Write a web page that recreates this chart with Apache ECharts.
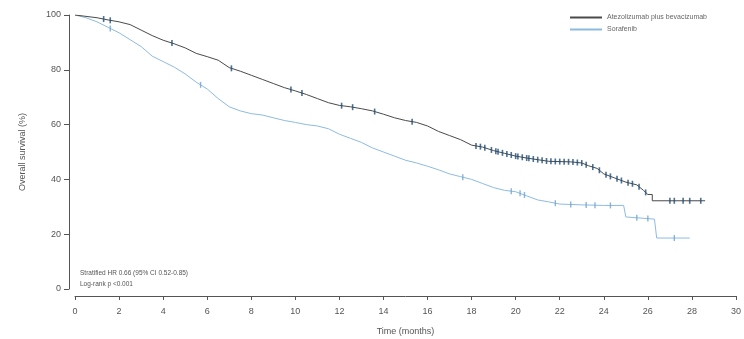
<!DOCTYPE html>
<html>
<head>
<meta charset="utf-8">
<script src="https://cdn.jsdelivr.net/npm/echarts@6/dist/echarts.min.js"></script>
<style>
  html, body { margin: 0; padding: 0; background: #fff; }
  #os-chart { width: 744px; height: 339px; }
</style>
</head>
<body>
<div id="os-chart"></div>
<script>
// Kaplan-Meier curves (time in months, survival %)
// repeated times are the visible vertical drops
const atezoTimes = [0, 0.5, 1.0, 1.5, 2.0, 2.5, 3.0, 3.5, 4.0, 4.5, 5.0, 5.5, 6.0, 6.5, 7.0, 7.5, 8.0, 8.5, 9.0, 9.5,
  10.0, 10.5, 11.0, 11.5, 12.0, 12.5, 13.0, 13.5, 14.0, 14.5, 15.0, 15.5, 16.0, 16.5, 17.0, 17.5, 18.0, 18.5, 19.0, 19.5,
  20.0, 20.5, 21.0, 21.5, 22.0, 22.5, 23.0, 23.3, 23.7, 24.0, 24.5, 25.0, 25.5, 25.8, 26.0, 26.2, 26.2, 28.6]
const atezoSurv = [100, 99.5, 99, 98.2, 97.5, 96.5, 94.5, 92.5, 90.8, 89.5, 88, 86, 84.8, 83.5, 80.8, 79.5, 78, 76.5, 75, 73.5,
  72.3, 71, 69.5, 68, 67, 66.5, 65.8, 65, 63.8, 62.5, 61.5, 60.8, 59.5, 57.5, 56, 54.5, 52.5, 51.8, 50.5, 49.5,
  48.5, 47.8, 47.2, 46.6, 46.5, 46.4, 46, 45, 44, 42, 40.5, 39, 38, 36, 34.5, 34.5, 32.2, 32.2]

const soraTimes = [0, 0.5, 1.0, 1.5, 2.0, 2.5, 3.0, 3.5, 4.0, 4.5, 5.0, 5.5, 6.0, 6.5, 7.0, 7.5, 8.0, 8.5, 9.0, 9.5,
  10.0, 10.5, 11.0, 11.5, 12.0, 12.5, 13.0, 13.5, 14.0, 14.5, 15.0, 15.5, 16.0, 16.5, 17.0, 17.5, 18.0, 18.5, 19.0, 19.5,
  20.0, 20.5, 21.0, 21.5, 22.0, 23.0, 24.0, 24.9, 25.0, 26.3, 26.4, 27.9]
const soraSurv = [100, 99, 97.5, 95.5, 93.5, 91, 88.5, 85, 83, 81, 78.5, 75.5, 73, 69.5, 66.5, 65, 64, 63.5, 62.5, 61.5,
  60.8, 60, 59.5, 58.5, 56.5, 55, 53.5, 51.5, 50, 48.5, 47, 46, 44.8, 43.5, 42, 41, 40, 38.5, 37, 36,
  35.5, 34, 32.5, 31.8, 31, 30.7, 30.5, 30.5, 26.3, 25.5, 18.6, 18.6]

// censoring times
const atezoCensor = [1.3, 1.6, 4.4, 7.1, 9.8, 10.3, 12.1, 12.6, 13.6, 15.3, 18.2, 18.4, 18.6, 18.9, 19.1, 19.2, 19.4, 19.6,
  19.8, 20.0, 20.1, 20.3, 20.5, 20.6, 20.8, 21.0, 21.2, 21.4, 21.6, 21.8, 22.0, 22.2, 22.4, 22.6, 22.8, 23.0, 23.2,
  23.5, 23.8, 24.1, 24.3, 24.6, 24.8, 25.1, 25.3, 25.6, 25.9, 27.0, 27.2, 27.6, 27.9, 28.4]
const soraCensor = [1.6, 5.7, 17.6, 19.8, 20.2, 20.4, 21.8, 22.5, 23.2, 23.6, 24.3, 25.5, 26.0, 27.2]

const xTicks = [0, 2, 4, 6, 8, 10, 12, 14, 16, 18, 20, 22, 24, 26, 28, 30]
const seriesNames = ['Atezolizumab plus bevacizumab', 'Sorafenib']
const notes = ['Stratified HR 0.66 (95% CI 0.52-0.85)', 'Log-rank p <0.001']

function pairs(ts, ss) { return ts.map((t, i) => [t, ss[i]]) }
// survival at a time, interpolated along the drawn curve
function survAt(ts, ss, t) {
  for (let i = 1; i < ts.length; i++) {
    if (t <= ts[i]) {
      const span = ts[i] - ts[i - 1]
      if (span <= 0) return ss[i]
      return ss[i - 1] + (ss[i] - ss[i - 1]) * (t - ts[i - 1]) / span
    }
  }
  return ss[ss.length - 1]
}

const chart = echarts.init(document.getElementById('os-chart'))
const tickColor = '#555'
const font = 'Liberation Sans'
const options = {
  animation: false,
  grid: { left: 75, right: 8, top: 15, bottom: 50, containLabel: false, outerBoundsMode: 'none' },
  legend: {
    left: 565, top: 9, orient: 'vertical', itemWidth: 32, itemHeight: 2, itemGap: 5,
    data: seriesNames.map(n => ({ name: n, icon: 'rect' })),
    textStyle: { fontSize: 7, color: '#666', fontFamily: font }
  },
  xAxis: {
    type: 'value', min: 0, max: 30, interval: 2, position: 'bottom', offset: 7,
    name: 'Time (months)', nameLocation: 'middle', nameGap: 31,
    nameTextStyle: { fontSize: 9, color: '#555', fontFamily: font },
    axisLine: { onZero: false, lineStyle: { color: tickColor, width: 1 } },
    axisTick: { length: 4, lineStyle: { color: tickColor } },
    axisLabel: { fontSize: 9, color: '#555', margin: 11, fontFamily: font, customValues: xTicks },
    splitLine: { show: false }
  },
  yAxis: {
    type: 'value', min: 0, max: 100, interval: 20, position: 'left', offset: 6,
    name: 'Overall survival (%)', nameLocation: 'middle', nameGap: 42,
    nameTextStyle: { fontSize: 9, color: '#555', fontFamily: font },
    axisLine: { show: true, onZero: false, lineStyle: { color: tickColor, width: 1 } },
    axisTick: { show: true, length: 5, lineStyle: { color: tickColor } },
    axisLabel: { fontSize: 9, color: '#555', margin: 8, fontFamily: font },
    splitLine: { show: false }
  },
  graphic: [{
    type: 'text', left: 80, top: 268,
    style: { text: notes.join('\n'), fontSize: 6.5, lineHeight: 11, fill: '#555', fontFamily: font }
  }],
  series: [
    {
      name: seriesNames[0], type: 'line', showSymbol: false,
      data: pairs(atezoTimes, atezoSurv),
      lineStyle: { color: '#4a4a4a', width: 1 }, itemStyle: { color: '#4a4a4a' }, z: 3
    },
    {
      name: seriesNames[1], type: 'line', showSymbol: false,
      data: pairs(soraTimes, soraSurv),
      lineStyle: { color: '#8dbbe0', width: 1 }, itemStyle: { color: '#8dbbe0' }, z: 2
    },
    {
      type: 'scatter', symbol: 'rect', symbolSize: [1.6, 6],
      data: atezoCensor.map(t => [t, survAt(atezoTimes, atezoSurv, t)]),
      itemStyle: { color: '#1f4d78' }, z: 4
    },
    {
      type: 'scatter', symbol: 'rect', symbolSize: [1.4, 6],
      data: soraCensor.map(t => [t, survAt(soraTimes, soraSurv, t)]),
      itemStyle: { color: '#6aa2d0' }, z: 4
    }
  ]
}
options && chart.setOption(options)
</script>
</body>
</html>
